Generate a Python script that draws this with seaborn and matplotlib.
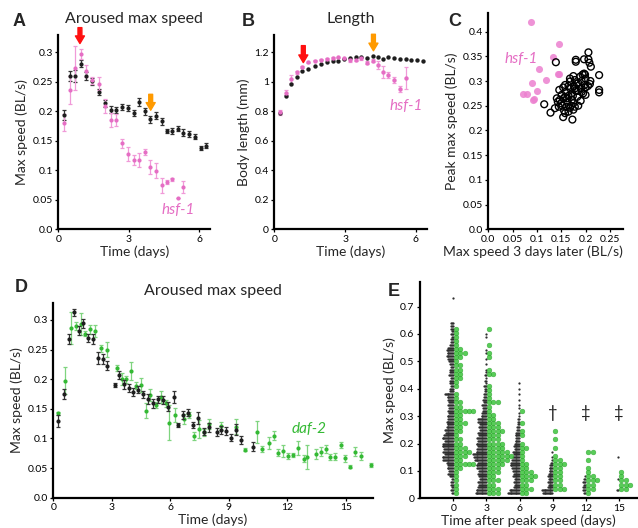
import numpy as np
import pandas as pd
import matplotlib
matplotlib.use("Agg")
import matplotlib.pyplot as plt
import seaborn as sns

sns.set_style("ticks")
plt.rcParams['font.family'] = ['Lato', 'DejaVu Sans']

# colores
NEGRO = '#1e1e1e'
ROSA = '#e56ec4'
ROSA_CLARO = '#f09ad8'
VERDE = '#34b934'
VERDE_CLARO = '#7fd47f'

# ---------------- datos panel A / B (N2 vs hsf-1) ----------------
t_n2 = [0.25, 0.49, 0.71, 0.95, 1.19, 1.43, 1.72, 1.97, 2.23, 2.47, 2.71, 2.95, 3.2,
        3.45, 3.68, 3.92, 4.17, 4.4, 4.61, 4.82, 5.08, 5.32, 5.56, 5.8, 6.05, 6.3]
a_n2 = [0.194, 0.26, 0.26, 0.281, 0.26, 0.251, 0.233, 0.2135, 0.203, 0.203, 0.208, 0.206,
        0.198, 0.216, 0.2, 0.187, 0.1925, 0.1835, 0.1666, 0.1666, 0.171, 0.164, 0.162,
        0.157, 0.138, 0.1417]
a_n2_err = [0.008, 0.008, 0.01, 0.006, 0.006, 0.006, 0.005, 0.006, 0.006, 0.005, 0.005,
            0.005, 0.005, 0.007, 0.006, 0.006, 0.006, 0.006, 0.004, 0.005, 0.005, 0.006,
            0.005, 0.004, 0.004, 0.004]
a_hsf = [0.181, 0.236, 0.274, 0.297, 0.269, 0.253, 0.247, 0.209, 0.185, 0.186, 0.146,
         0.1276, 0.1175, 0.117, 0.1305, 0.106, 0.0994, 0.0745, 0.0807, 0.0847, 0.0536, 0.0722]
a_hsf_err = [0.014, 0.024, 0.037, 0.009, 0.01, 0.006, 0.011, 0.012, 0.012, 0.01, 0.008,
             0.012, 0.008, 0.012, 0.005, 0.012, 0.013, 0.012, 0.003, 0.002, 0.0, 0.01]
b_n2 = [0.786, 0.906, 0.985, 1.03, 1.073, 1.087, 1.109, 1.121, 1.134, 1.14, 1.143, 1.157,
        1.158, 1.167, 1.167, 1.16, 1.177, 1.165, 1.157, 1.167, 1.16, 1.153, 1.153, 1.146,
        1.146, 1.14]
b_hsf = [0.793, 0.926, 1.019, 1.064, 1.098, 1.132, 1.143, 1.15, 1.155, 1.16, 1.165, 1.158,
         1.148, 1.15, 1.158, 1.13, 1.143, 1.114, 1.067, 1.046, 1.012, 0.952, 1.026]
b_hsf_err = [0.015, 0.015, 0.025, 0.008, 0.006, 0.005, 0.005, 0.005, 0.005, 0.005, 0.005,
             0.005, 0.012, 0.012, 0.012, 0.01, 0.01, 0.03, 0.04, 0.02, 0.02, 0.02, 0.075]

# ---------------- datos panel C ----------------
c_n2_x = [0.115, 0.128, 0.137, 0.139, 0.154, 0.173, 0.18, 0.18, 0.197, 0.206, 0.206, 0.208,
          0.211, 0.228, 0.228, 0.228, 0.199, 0.194, 0.197, 0.209, 0.2, 0.2, 0.189, 0.178,
          0.185, 0.168, 0.158, 0.154, 0.146, 0.151, 0.141, 0.143, 0.158, 0.165, 0.172, 0.172,
          0.18, 0.183, 0.19, 0.163, 0.17, 0.178, 0.175, 0.16, 0.152, 0.147, 0.156, 0.165,
          0.185, 0.19, 0.195, 0.205, 0.21, 0.192, 0.176, 0.168, 0.16, 0.15, 0.145, 0.162,
          0.174, 0.185, 0.178, 0.168, 0.175, 0.165, 0.155, 0.182, 0.198, 0.2, 0.192, 0.175,
          0.168, 0.158]
c_n2_y = [0.253, 0.236, 0.245, 0.338, 0.227, 0.222, 0.343, 0.339, 0.344, 0.358, 0.344, 0.337,
          0.329, 0.312, 0.282, 0.277, 0.313, 0.313, 0.315, 0.294, 0.287, 0.272, 0.309, 0.302,
          0.296, 0.299, 0.292, 0.287, 0.282, 0.272, 0.265, 0.258, 0.268, 0.27, 0.275, 0.262,
          0.28, 0.268, 0.285, 0.258, 0.25, 0.248, 0.255, 0.248, 0.25, 0.262, 0.24, 0.238,
          0.25, 0.26, 0.275, 0.29, 0.3, 0.3, 0.29, 0.285, 0.278, 0.255, 0.248, 0.265,
          0.27, 0.28, 0.285, 0.305, 0.31, 0.29, 0.265, 0.295, 0.292, 0.305, 0.278, 0.242,
          0.246, 0.235]
c_hsf_x = [0.0879, 0.1455, 0.134, 0.105, 0.1428, 0.146, 0.118, 0.0906, 0.1002, 0.0708,
           0.079, 0.0947, 0.0913]
c_hsf_y = [0.42, 0.375, 0.348, 0.3245, 0.3144, 0.3144, 0.303, 0.297, 0.2806, 0.273, 0.273,
           0.263, 0.261]

# ---------------- datos panel D (N2 vs daf-2) ----------------
t_d_n2 = [0.26, 0.55, 0.82, 1.06, 1.33, 1.54, 1.8, 2.05, 2.31, 2.56, 2.77, 3.16, 3.38, 3.63,
          3.88, 4.1, 4.36, 4.62, 4.87, 5.13, 5.38, 5.64, 5.9, 6.19, 6.41, 6.67, 6.92, 7.15,
          7.44, 7.73, 7.98, 8.38, 8.6, 8.86, 9.1, 9.35, 9.61, 10.22]
d_n2 = [0.13, 0.175, 0.268, 0.313, 0.282, 0.294, 0.27, 0.268, 0.236, 0.234, 0.223, 0.19,
        0.207, 0.191, 0.185, 0.178, 0.182, 0.1745, 0.1665, 0.159, 0.166, 0.165, 0.1536,
        0.17, 0.1227, 0.1396, 0.1435, 0.1227, 0.135, 0.1114, 0.1188, 0.1104, 0.1143,
        0.1126, 0.1013, 0.115, 0.0974, 0.086]
d_n2_err = [0.01, 0.008, 0.008, 0.006, 0.008, 0.007, 0.007, 0.008, 0.01, 0.009, 0.008,
            0.004, 0.006, 0.007, 0.006, 0.007, 0.006, 0.006, 0.008, 0.008, 0.006, 0.007,
            0.008, 0.01, 0.004, 0.007, 0.006, 0.005, 0.01, 0.006, 0.008, 0.007, 0.007,
            0.006, 0.006, 0.01, 0.006, 0.008]
t_d_daf = [0.26, 0.6, 0.89, 1.15, 1.4, 1.63, 1.88, 2.14, 2.43, 2.74, 3.25, 3.5, 3.73, 3.97,
           4.24, 4.48, 4.74, 4.96, 5.27, 5.5, 5.78, 5.95, 6.24, 6.72, 6.97, 7.2, 7.48, 7.73,
           7.98, 8.6, 9.37, 9.83, 10.43, 10.72, 11.08, 11.32, 11.55, 11.8, 12.05, 12.31,
           12.56, 12.86, 13.03, 13.47, 13.72, 13.97, 14.2, 14.46, 14.74, 14.97, 15.22,
           15.47, 15.76, 16.29]
d_daf = [0.1424, 0.1975, 0.287, 0.29, 0.293, 0.277, 0.284, 0.281, 0.252, 0.25, 0.219, 0.2,
         0.2, 0.2143, 0.189, 0.19, 0.147, 0.1733, 0.1565, 0.1705, 0.159, 0.1266, 0.1396,
         0.133, 0.14, 0.104, 0.1154, 0.1104, 0.1244, 0.121, 0.12, 0.081, 0.111, 0.082,
         0.0928, 0.1047, 0.0755, 0.0793, 0.0698, 0.072, 0.0834, 0.0659, 0.0686, 0.0738,
         0.0777, 0.0818, 0.068, 0.069, 0.089, 0.0665, 0.0523, 0.0777, 0.07, 0.0552]
d_daf_err = [0.003, 0.0225, 0.027, 0.007, 0.018, 0.005, 0.008, 0.01, 0.006, 0.012, 0.005,
             0.01, 0.006, 0.015, 0.006, 0.012, 0.012, 0.01, 0.005, 0.01, 0.006, 0.03,
             0.012, 0.008, 0.005, 0.007, 0.015, 0.006, 0.008, 0.006, 0.012, 0.003, 0.019,
             0.005, 0.01, 0.008, 0.006, 0.01, 0.005, 0.003, 0.012, 0.006, 0.021, 0.008,
             0.008, 0.007, 0.005, 0.006, 0.005, 0.006, 0.003, 0.008, 0.007, 0.004]

# ---------------- datos panel E: conteos por nivel de velocidad ----------------
# N2: niveles desde 0.02 cada 0.01 BL/s
e_dias = [0, 3, 6, 9, 12, 15]
n2_d0 = [2, 3, 2, 3, 3, 2, 4, 6, 5, 7, 6, 8, 12, 13, 10, 12, 11, 13, 12, 10, 13, 11, 9, 10,
         8, 7, 8, 6, 7, 5, 6, 5, 6, 5, 6, 7, 10, 4, 4, 3, 4, 4, 3, 5, 4, 4, 3, 4, 5, 6, 8,
         7, 8, 6, 4, 3, 3, 2, 3, 2, 3, 3, 3, 0, 0, 0, 0, 0, 0, 0, 0, 1]
n2_d3 = [13, 12, 10, 9, 10, 8, 9, 10, 9, 11, 12, 10, 14, 15, 16, 12, 11, 10, 12, 10, 11, 9,
         10, 8, 9, 8, 10, 10, 6, 5, 4, 4, 5, 3, 4, 3, 3, 2, 2, 3, 1, 2, 1, 2, 1, 1, 0, 1, 0,
         1, 0, 1, 1, 0, 0, 0, 0, 1, 1]
n2_d6 = [14, 12, 7, 6, 7, 6, 8, 7, 8, 9, 11, 10, 9, 8, 7, 8, 6, 7, 6, 5, 4, 5, 4, 3, 3, 2,
         2, 2, 1, 1, 0, 1, 1, 0, 1, 0, 1, 0, 1, 0, 1]
n2_d9 = [12, 13, 6, 5, 6, 5, 6, 5, 4, 4, 3, 2, 1, 1, 0, 1]
n2_d12 = [2, 3, 3, 2, 3, 2, 1]
n2_d15 = [0, 2, 0, 0, 0, 1, 0, 0, 0, 0, 0, 0, 0, 1]
# daf-2: niveles desde 0.02 cada 0.015 BL/s
daf_d0 = [1, 1, 1, 1, 1, 1, 2, 5, 2, 3, 4, 3, 2, 2, 1, 2, 2, 3, 2, 2, 5, 2, 2, 1, 1, 0, 1,
          1, 2, 2, 2, 2, 1, 2, 3, 2, 1, 1, 1, 1, 1]
daf_d3 = [3, 3, 2, 3, 2, 3, 3, 4, 5, 6, 5, 4, 4, 3, 3, 4, 3, 3, 2, 2, 1, 1, 3, 1, 1, 1, 1,
          0, 0, 2, 1, 0, 0, 1, 1, 0, 1, 0, 0, 0, 1]
daf_d6 = [2, 3, 2, 3, 4, 3, 2, 2, 1, 1, 1, 2, 1, 0, 1, 1, 0, 1, 0, 0, 1]
daf_d9 = [0, 3, 2, 2, 2, 2, 2, 3, 2, 1, 0, 1, 0, 1, 0, 1]
daf_d12 = [1, 2, 2, 3, 2, 1, 1, 0, 1, 0, 2]
daf_d15 = [0, 2, 3, 2, 1, 1]


def apilar(conteos, dia, inicio, paso, lado, dx, hueco):
    """Apila puntos de cada nivel hacia un lado del dia (medio enjambre)."""
    filas = []
    for i, n in enumerate(conteos):
        v = round(inicio + i * paso, 4)
        for k in range(n):
            filas.append((dia + lado * (hueco + k * dx), v))
    return filas


def estilo(ax, xt, xl, yt, yl):
    sns.despine(ax=ax)
    for s in ['left', 'bottom']:
        ax.spines[s].set_linewidth(1.6)
        ax.spines[s].set_color('black')
    ax.set_xticks(xt, xl)
    ax.set_yticks(yt, yl)
    ax.tick_params(labelsize=7.5, width=0.9, length=2.5, pad=1.5, colors='black')


def flecha(ax, x, y0, y1, color):
    ax.annotate('', xy=(x, y1), xytext=(x, y0), annotation_clip=False,
                arrowprops=dict(arrowstyle='simple,head_width=0.65,head_length=0.55,tail_width=0.28',
                                color=color, mutation_scale=10, shrinkA=0, shrinkB=0))


fig = plt.figure(figsize=(6.38, 5.28), dpi=100)
axA = fig.add_axes([0.0914, 0.5655, 0.2378, 0.3682])
axB = fig.add_axes([0.4299, 0.5657, 0.2398, 0.3680])
axC = fig.add_axes([0.7654, 0.5657, 0.2106, 0.4091])
axD = fig.add_axes([0.0835, 0.0574, 0.5006, 0.3682])
axE = fig.add_axes([0.6583, 0.0563, 0.3397, 0.4102])

lab_vel = ['0.0', '0.05', '0.1', '0.15', '0.2', '0.25', '0.3']
ticks_vel = [0, 0.05, 0.1, 0.15, 0.2, 0.25, 0.3]

# Panel A
axA.errorbar(t_n2, a_n2, yerr=a_n2_err, fmt='none', ecolor='#333333', elinewidth=0.9,
             capsize=1.5, capthick=0.9, zorder=2)
sns.scatterplot(x=t_n2, y=a_n2, color=NEGRO, s=9, linewidth=0, ax=axA, zorder=3)
axA.errorbar(t_n2[:22], a_hsf, yerr=a_hsf_err, fmt='none', ecolor=ROSA_CLARO, elinewidth=0.9,
             capsize=1.5, capthick=0.9, zorder=2)
sns.scatterplot(x=t_n2[:22], y=a_hsf, color=ROSA, s=9, linewidth=0, ax=axA, zorder=3)
axA.set_xlim(0, 6.455)
axA.set_ylim(0, 0.3295)
estilo(axA, [0, 3, 6], ['0', '3', '6'], ticks_vel, lab_vel)
axA.set_xlabel('Time (days)', fontsize=10, labelpad=1)
axA.set_ylabel('Max speed (BL/s)', fontsize=10, labelpad=3)
axA.set_title('Aroused max speed', fontsize=11.5, pad=9)
axA.text(5.09, 0.033, 'hsf-1', color=ROSA, fontsize=11, style='italic', ha='center', va='center')
flecha(axA, 0.92, 0.342, 0.315, '#ff1010')
flecha(axA, 3.93, 0.229, 0.202, '#ff9a00')

# Panel B
axB.errorbar(t_n2[:23], b_hsf, yerr=b_hsf_err, fmt='none', ecolor=ROSA_CLARO, elinewidth=0.9,
             capsize=1.5, capthick=0.9, zorder=2)
sns.scatterplot(x=t_n2, y=b_n2, color=NEGRO, s=10, linewidth=0, ax=axB, zorder=3)
sns.scatterplot(x=t_n2[:23], y=b_hsf, color=ROSA, s=10, linewidth=0, ax=axB, zorder=3)
axB.set_xlim(0, 6.48)
axB.set_ylim(0, 1.317)
estilo(axB, [0, 3, 6], ['0', '3', '6'], [0, 0.2, 0.4, 0.6, 0.8, 1.0, 1.2],
       ['0', '0.2', '0.4', '0.6', '0.8', '1', '1.2'])
axB.set_xlabel('Time (days)', fontsize=10, labelpad=1)
axB.set_ylabel('Body length (mm)', fontsize=10, labelpad=3)
axB.set_title('Length', fontsize=11.5, pad=9)
axB.text(5.58, 0.836, 'hsf-1', color=ROSA, fontsize=11, style='italic', ha='center', va='center')
flecha(axB, 1.23, 1.245, 1.13, '#ff1010')
flecha(axB, 4.2, 1.322, 1.21, '#ff9a00')

# Panel C
sns.scatterplot(x=c_n2_x, y=c_n2_y, facecolor='none', edgecolor='black', linewidth=1.0,
                s=24, ax=axC, zorder=3)
sns.scatterplot(x=c_hsf_x, y=c_hsf_y, color='#ec80cf', alpha=0.85, linewidth=0, s=26,
                ax=axC, zorder=2)
axC.set_xlim(0, 0.2765)
axC.set_ylim(0, 0.437)
estilo(axC, [0, 0.05, 0.1, 0.15, 0.2, 0.25], ['0.0', '0.05', '0.1', '0.15', '0.2', '0.25'],
       [0, 0.05, 0.1, 0.15, 0.2, 0.25, 0.3, 0.35, 0.4],
       ['0.0', '0.05', '0.1', '0.15', '0.2', '0.25', '0.3', '0.35', '0.4'])
axC.set_xlabel('Max speed 3 days later (BL/s)', fontsize=10, labelpad=1, x=0.33)
axC.set_ylabel('Peak max speed (BL/s)', fontsize=10, labelpad=3)
axC.text(0.0667, 0.344, 'hsf-1', color=ROSA, fontsize=11, style='italic', ha='center', va='center')

# Panel D
axD.errorbar(t_d_daf, d_daf, yerr=d_daf_err, fmt='none', ecolor=VERDE_CLARO, elinewidth=0.9,
             capsize=1.5, capthick=0.9, zorder=2)
sns.scatterplot(x=t_d_daf, y=d_daf, color=VERDE, s=9, linewidth=0, ax=axD, zorder=3)
axD.errorbar(t_d_n2, d_n2, yerr=d_n2_err, fmt='none', ecolor='#333333', elinewidth=0.9,
             capsize=1.5, capthick=0.9, zorder=4)
sns.scatterplot(x=t_d_n2, y=d_n2, color=NEGRO, s=9, linewidth=0, ax=axD, zorder=5)
axD.set_xlim(0, 16.38)
axD.set_ylim(0, 0.328)
estilo(axD, [0, 3, 6, 9, 12, 15], ['0', '3', '6', '9', '12', '15'], ticks_vel, lab_vel)
axD.set_xlabel('Time (days)', fontsize=10, labelpad=1)
axD.set_ylabel('Max speed (BL/s)', fontsize=10, labelpad=3)
axD.set_title('Aroused max speed', fontsize=11.5, pad=6)
axD.text(13.1, 0.116, 'daf-2', color=VERDE, fontsize=11, style='italic', ha='center', va='center')

# Panel E
filas_n2, filas_daf = [], []
for dia, cn, cd in zip(e_dias, [n2_d0, n2_d3, n2_d6, n2_d9, n2_d12, n2_d15],
                       [daf_d0, daf_d3, daf_d6, daf_d9, daf_d12, daf_d15]):
    filas_n2 += apilar(cn, dia, 0.02, 0.01, -1, 0.075, 0.07)
    filas_daf += apilar(cd, dia, 0.02, 0.015, 1, 0.4, 0.22)
df_n2 = pd.DataFrame(filas_n2, columns=['x', 'v'])
df_daf = pd.DataFrame(filas_daf, columns=['x', 'v'])
sns.scatterplot(data=df_n2, x='x', y='v', color='#2e2e2e', s=2.6, linewidth=0, ax=axE, zorder=3)
sns.scatterplot(data=df_daf, x='x', y='v', color='#3cc43c', alpha=0.85, s=12,
                linewidth=0.3, edgecolor='#2a9d2a', ax=axE, zorder=4)
for dia, marca in zip([9, 12, 15], ['\u2020', '\u2021', '\u2021']):
    axE.text(dia, 0.312, marca, fontsize=12, ha='center', va='center', color='#222222')
axE.set_xlim(-3.02, 16.6)
axE.set_ylim(0, 0.791)
estilo(axE, e_dias, [str(d) for d in e_dias], [0, 0.1, 0.2, 0.3, 0.4, 0.5, 0.6, 0.7],
       ['0', '0.1', '0.2', '0.3', '0.4', '0.5', '0.6', '0.7'])
axE.set_xlabel('Time after peak speed (days)', fontsize=10, labelpad=1)
axE.set_ylabel('Max speed (BL/s)', fontsize=10, labelpad=3)

# letras de panel
for letra, x, y in [('A', 19.5, 21), ('B', 248, 21), ('C', 455, 21), ('D', 21.5, 288),
                    ('E', 393.5, 291)]:
    fig.text(x / 638, 1 - y / 528, letra, fontsize=13, fontweight='bold',
             family=['Liberation Sans', 'DejaVu Sans'], ha='center', va='center')

fig.savefig('out.png', dpi=100)
